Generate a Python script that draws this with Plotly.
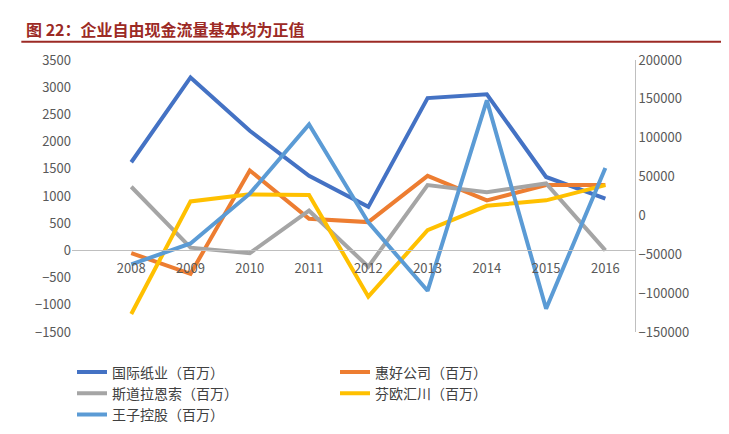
import plotly.graph_objects as go

years = ["2008","2009","2010","2011","2012","2013","2014","2015","2016"]
ip = [1620, 3180, 2200, 1370, 800, 2800, 2870, 1350, 950]
weyer = [-50, -430, 1470, 580, 520, 1370, 920, 1200, 1200]
stora = [1170, 50, -50, 730, -300, 1200, 1070, 1230, 0]
upm = [-1170, 900, 1030, 1020, -850, 370, 820, 920, 1200]
oji = [-63000, -36000, 28000, 117000, -9000, -97000, 148000, -120000, 61000]

names = ["国际纸业（百万）", "惠好公司（百万）", "斯道拉恩索（百万）", "芬欧汇川（百万）", "王子控股（百万）"]
colors = ["#4472C4", "#ED7D31", "#A5A5A5", "#FFC000", "#5B9BD5"]

fig = go.Figure()
for n, v, c in zip(names[:4], [ip, weyer, stora, upm], colors[:4]):
    fig.add_trace(go.Scatter(x=years, y=v, name=n, mode="lines", line=dict(color=c, width=4)))
fig.add_trace(go.Scatter(x=years, y=oji, name=names[4], mode="lines", line=dict(color=colors[4], width=4), yaxis="y2"))

fig.update_layout(
    width=729, height=434,
    margin=dict(l=64, r=102, t=52, b=82),
    paper_bgcolor="white", plot_bgcolor="white",
    font=dict(family="Noto Sans CJK SC", size=13, color="#595959"),
    xaxis=dict(anchor="free", position=0.3, showline=True, linecolor="#BFBFBF",
               showgrid=False, ticks="", tickfont=dict(size=13), range=[-1, 8.5],
               ticklabelstandoff=6),
    yaxis=dict(range=[-1500, 3500], dtick=500, showgrid=False, zeroline=False,
               showline=False, tickfont=dict(size=13)),
    yaxis2=dict(range=[-150000, 200000], dtick=50000, overlaying="y", side="right",
                showgrid=False, zeroline=False, showline=True, linecolor="#BFBFBF",
                tickfont=dict(size=13), tickformat="d"),
    legend=dict(orientation="h", x=0.0, y=-0.09, yanchor="top", xanchor="left",
                entrywidth=218, tracegroupgap=0, font=dict(size=14, color="#404040")),
    showlegend=True,
)
fig.add_annotation(text="<b>图 22：企业自由现金流量基本均为正值</b>", xref="paper", yref="paper",
                   x=-0.085, y=1.115, xanchor="left", yanchor="middle", showarrow=False,
                   font=dict(size=16, color="#9C2A25", family="Noto Sans CJK SC"))
fig.add_shape(type="line", xref="paper", yref="paper", x0=-0.09, x1=1.18, y0=1.067, y1=1.067,
              line=dict(color="#9C2A25", width=2))
fig.write_html("out.html")
